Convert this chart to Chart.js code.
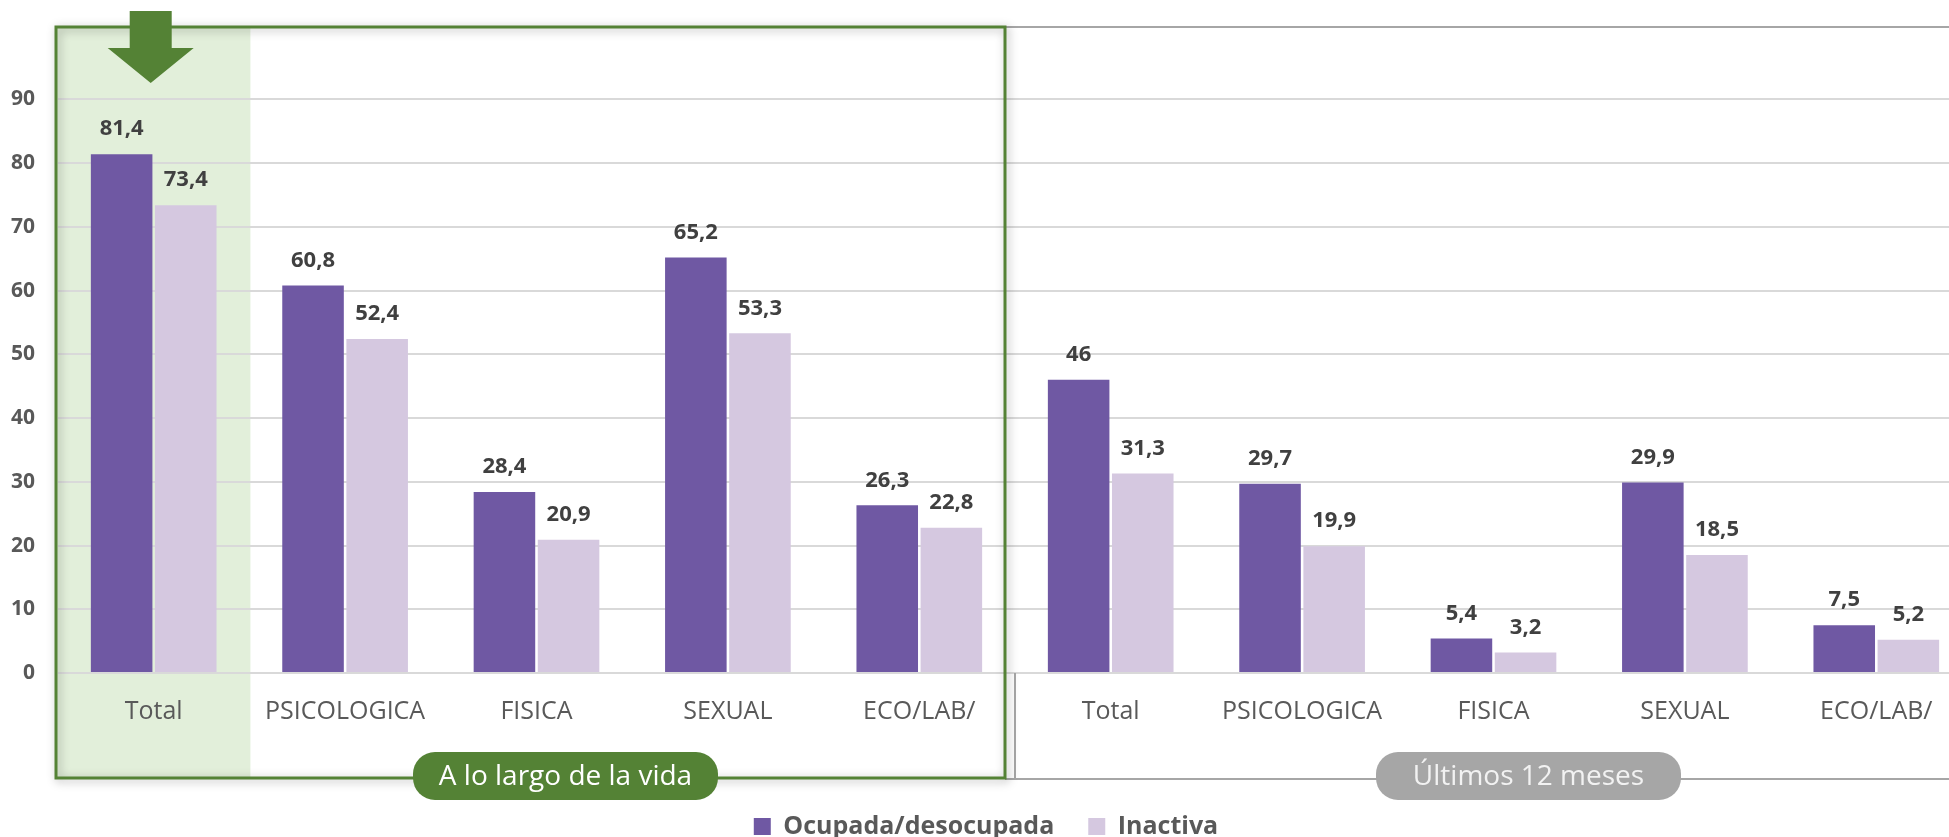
<!DOCTYPE html>
<html>
<head>
<meta charset="utf-8">
<script src="https://cdn.jsdelivr.net/npm/chart.js@4/dist/chart.umd.min.js"></script>
<style>
    html, body { margin: 0; padding: 0; background: #fff; overflow: hidden; }
    #wrap { position: relative; width: 1972px; height: 837px; }
</style>
</head>
<body>
<div id="wrap"><canvas id="violenceChart"></canvas></div>
<script>
const categories = ["Total", "PSICOLOGICA", "FISICA", "SEXUAL", "ECO/LAB/",
                    "Total", "PSICOLOGICA", "FISICA", "SEXUAL", "ECO/LAB/"];
const ocupada = [81.4, 60.8, 28.4, 65.2, 26.3, 46, 29.7, 5.4, 29.9, 7.5];
const inactiva = [73.4, 52.4, 20.9, 53.3, 22.8, 31.3, 19.9, 3.2, 18.5, 5.2];
const seriesNames = ["Ocupada/desocupada", "Inactiva"];
const groupNames = ["A lo largo de la vida", "Últimos 12 meses"];
const yTicks = [0, 10, 20, 30, 40, 50, 60, 70, 80, 90];

const FONT = "'Open Sans', sans-serif";
const GREEN = "#548235";
const GREY = "#a6a6a6";

function roundRect(ctx, x, y, w, h, r) {
    ctx.beginPath();
    ctx.moveTo(x + r, y);
    ctx.lineTo(x + w - r, y);
    ctx.arcTo(x + w, y, x + w, y + r, r);
    ctx.lineTo(x + w, y + h - r);
    ctx.arcTo(x + w, y + h, x + w - r, y + h, r);
    ctx.lineTo(x + r, y + h);
    ctx.arcTo(x, y + h, x, y + h - r, r);
    ctx.lineTo(x, y + r);
    ctx.arcTo(x, y, x + r, y, r);
    ctx.closePath();
}

// frames, shading, arrow, pills and value labels
const decor = {
    id: "decor",
    beforeDraw(chart) {
        const ctx = chart.ctx;
        const x = chart.scales.x;
        const cat = x.width / categories.length;
        const left = x.getPixelForTick(0) - cat / 2;
        ctx.save();
        ctx.fillStyle = "#e2efda";
        ctx.fillRect(left - 1, 28, cat + 2, 750);
        ctx.restore();
    },
    afterDatasetsDraw(chart) {
        const ctx = chart.ctx;
        ctx.save();
        ctx.font = "bold 22px " + FONT;
        ctx.fillStyle = "#404040";
        ctx.textAlign = "center";
        ctx.textBaseline = "bottom";
        chart.data.datasets.forEach((ds, i) => {
            chart.getDatasetMeta(i).data.forEach((bar, j) => {
                const txt = String(ds.data[j]).replace(".", ",");
                ctx.fillText(txt, bar.x, bar.y - 14);
            });
        });
        ctx.restore();
    },
    afterDraw(chart) {
        const ctx = chart.ctx;
        const x = chart.scales.x;
        const cat = x.width / categories.length;
        const area = chart.chartArea;
        const split = x.getPixelForTick(4) + cat / 2;
        const top = 27, bottom = 778;

        ctx.save();
        // grey frame (second group)
        ctx.strokeStyle = GREY;
        ctx.lineWidth = 2;
        ctx.beginPath();
        ctx.moveTo(split - 10, top);
        ctx.lineTo(chart.width + 5, top);
        ctx.moveTo(split - 10, bottom + 1);
        ctx.lineTo(chart.width + 5, bottom + 1);
        ctx.moveTo(split, area.bottom);
        ctx.lineTo(split, bottom + 1);
        ctx.stroke();

        // green frame with shadow (first group)
        ctx.shadowColor = "rgba(0,0,0,0.35)";
        ctx.shadowBlur = 10;
        ctx.shadowOffsetX = 2;
        ctx.shadowOffsetY = 2;
        ctx.strokeStyle = GREEN;
        ctx.lineWidth = 3;
        ctx.strokeRect(area.left - 2, top, split - 10 - (area.left - 2), bottom - top);
        ctx.shadowColor = "transparent";

        // arrow over first category
        const ax = x.getPixelForTick(0) - 3;
        ctx.fillStyle = GREEN;
        ctx.beginPath();
        ctx.moveTo(ax - 21, 11);
        ctx.lineTo(ax + 21, 11);
        ctx.lineTo(ax + 21, 48);
        ctx.lineTo(ax + 43, 48);
        ctx.lineTo(ax, 83);
        ctx.lineTo(ax - 43, 48);
        ctx.lineTo(ax - 21, 48);
        ctx.closePath();
        ctx.fill();

        // group pills
        const pills = [
            { name: groupNames[0], fill: GREEN, text: "#ffffff", center: x.getPixelForTick(2) + 29 },
            { name: groupNames[1], fill: GREY, text: "#f2f2f2", center: x.getPixelForTick(7) + 35 }
        ];
        pills.forEach((p) => {
            const w = 305, h = 48;
            roundRect(ctx, p.center - w / 2, 752, w, h, 22);
            ctx.fillStyle = p.fill;
            ctx.fill();
            ctx.fillStyle = p.text;
            ctx.font = "28px " + FONT;
            ctx.textAlign = "center";
            ctx.textBaseline = "middle";
            ctx.fillText(p.name, p.center, 777);
        });
        ctx.restore();
    }
};

new Chart(document.getElementById("violenceChart"), {
    type: "bar",
    data: {
        labels: categories,
        datasets: [
            { label: seriesNames[0], data: ocupada, backgroundColor: "#6f58a3" },
            { label: seriesNames[1], data: inactiva, backgroundColor: "#d5c8e0" }
        ]
    },
    options: {
        responsive: true,
        maintainAspectRatio: false,
        animation: false,
        categoryPercentage: 0.67,
        barPercentage: 0.96,
        layout: { padding: { top: 35, left: 0, right: 0, bottom: -12 } },
        plugins: {
            tooltip: { enabled: false },
            legend: {
                position: "bottom",
                labels: {
                    boxWidth: 17,
                    boxHeight: 17,
                    padding: 34,
                    color: "#595959",
                    font: { family: FONT, size: 25, weight: "bold" }
                }
            }
        },
        scales: {
            x: {
                grid: { display: false, drawTicks: false },
                border: { display: false },
                ticks: {
                    padding: 24,
                    color: "#595959",
                    font: { family: FONT, size: 25 },
                    maxRotation: 0
                },
                afterFit: (scale) => { scale.height = 107; }
            },
            y: {
                min: 0,
                max: 100,
                afterBuildTicks: (scale) => {
                    scale.ticks = yTicks.concat([100]).map((v) => ({ value: v }));
                },
                grid: {
                    drawTicks: false,
                    lineWidth: 2,
                    color: (c) => (c.tick && c.tick.value === 100 ? "transparent" : "#d9d9d9")
                },
                border: { display: false },
                ticks: {
                    padding: 23,
                    color: "#595959",
                    font: { family: FONT, size: 21, weight: "bold" },
                    callback: (v) => (v === 100 ? "" : v)
                },
                afterFit: (scale) => { scale.width = 58; }
            }
        }
    },
    plugins: [decor]
});
</script>
</body>
</html>
